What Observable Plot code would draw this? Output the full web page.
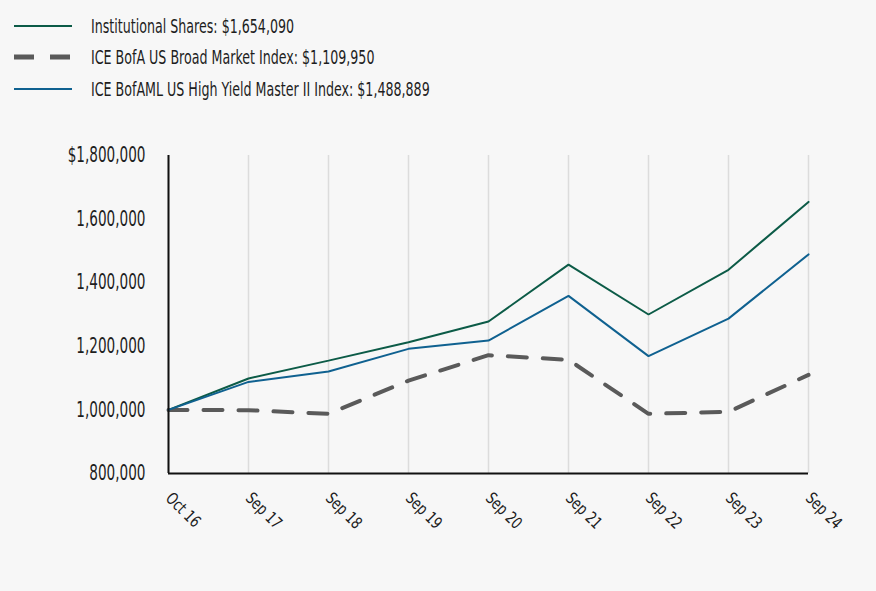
<!DOCTYPE html>
<html>
<head>
<meta charset="utf-8">
<script src="https://cdn.jsdelivr.net/npm/d3@7"></script>
<script src="https://cdn.jsdelivr.net/npm/@observablehq/plot@0.6"></script>
<style>
  html, body { margin: 0; padding: 0; background: #f7f7f7; }
  body { width: 876px; height: 591px; overflow: hidden; font-family: "DejaVu Sans Condensed", "Liberation Sans Narrow", sans-serif; }
  #legend { height: 110px; position: relative; }
  .item { position: absolute; left: 14px; display: flex; align-items: center; font-size: 19px; color: #1e1e1e; white-space: nowrap; }
  .item svg { margin-right: 19px; flex: none; }
  .item span { display: inline-block; transform: scaleX(0.74); transform-origin: left center; }
</style>
</head>
<body>
<div id="legend"></div>
<div id="chart"></div>
<script>
const dates = ["Oct 16", "Sep 17", "Sep 18", "Sep 19", "Sep 20", "Sep 21", "Sep 22", "Sep 23", "Sep 24"];
const institutional = [1000000, 1098700, 1155000, 1213000, 1278000, 1457000, 1300000, 1440600, 1654090];
const broadMarket   = [1000000, 999000, 987700, 1092000, 1172000, 1157500, 987700, 994000, 1109950];
const highYield     = [1000000, 1088000, 1120800, 1192000, 1218000, 1358700, 1169000, 1287000, 1488889];
const seriesNames = [
  "Institutional Shares: $1,654,090",
  "ICE BofA US Broad Market Index: $1,109,950",
  "ICE BofAML US High Yield Master II Index: $1,488,889"
];
const yTicks = [800000, 1000000, 1200000, 1400000, 1600000, 1800000];

const colors = ["#0c5b47", "#5a5a5a", "#0f6190"];
const dashes = [null, "19,16", null];
const widths = [2, 4, 2];
const seriesValues = [institutional, broadMarket, highYield];

// Legend
const legend = document.getElementById("legend");
const rowY = [26, 57, 89];
seriesNames.forEach((name, i) => {
  const div = document.createElement("div");
  div.className = "item";
  div.style.top = (rowY[i] - 12) + "px";
  div.style.height = "24px";
  div.innerHTML = `<svg width="58" height="10"><line x1="0" x2="58" y1="5" y2="5" stroke="${colors[i]}" stroke-width="${i === 1 ? 5 : 2}" ${dashes[i] ? `stroke-dasharray="20,16"` : ""}/></svg><span>${name}</span>`;
  legend.appendChild(div);
});

const rows = [];
seriesValues.forEach((vals, s) => vals.forEach((v, i) => rows.push({date: dates[i], value: v, series: s})));

const fmt = d3.format(",");
const chart = Plot.plot({
  width: 876,
  height: 481,
  marginLeft: 168,
  marginRight: 68,
  marginTop: 45,
  marginBottom: 118,
  style: {background: "transparent", fontFamily: "'DejaVu Sans Condensed', 'Liberation Sans Narrow', sans-serif", fontSize: "19px", color: "#1e1e1e"},
  x: {type: "point", domain: dates, padding: 0},
  y: {domain: [800000, 1800000]},
  marks: [
    Plot.gridX({stroke: "#dcdcdc", strokeOpacity: 1, strokeWidth: 1.5}),
    Plot.axisY({ticks: yTicks, tickSize: 0, tickPadding: 23, label: null, fontSize: 21,
      tickFormat: d => d === 1800000 ? "$" + fmt(d) : fmt(d)}),
    Plot.axisX({tickSize: 0, tickRotate: 45, textAnchor: "start", tickPadding: 22, label: null, fontSize: 16.5}),
    ...seriesValues.map((_, s) => Plot.line(rows.filter(r => r.series === s), {
      x: "date", y: "value", stroke: colors[s], strokeWidth: widths[s],
      strokeDasharray: dashes[s] || undefined, strokeLinejoin: "miter"
    })),
    Plot.ruleX([dates[0]], {stroke: "#111", strokeWidth: 2}),
    Plot.ruleY([800000], {stroke: "#111", strokeWidth: 2})
  ]
});
// Condense tick label glyphs to mimic the narrow typeface of the original
chart.querySelectorAll('g[aria-label="y-axis tick label"] text').forEach(t => {
  t.setAttribute("transform", (t.getAttribute("transform") || "") + " scale(0.72,1)");
});
chart.querySelectorAll('g[aria-label="x-axis tick label"] text').forEach(t => {
  t.setAttribute("transform", (t.getAttribute("transform") || "") + " scale(0.84,1)");
});
document.getElementById("chart").appendChild(chart);
</script>
</body>
</html>
